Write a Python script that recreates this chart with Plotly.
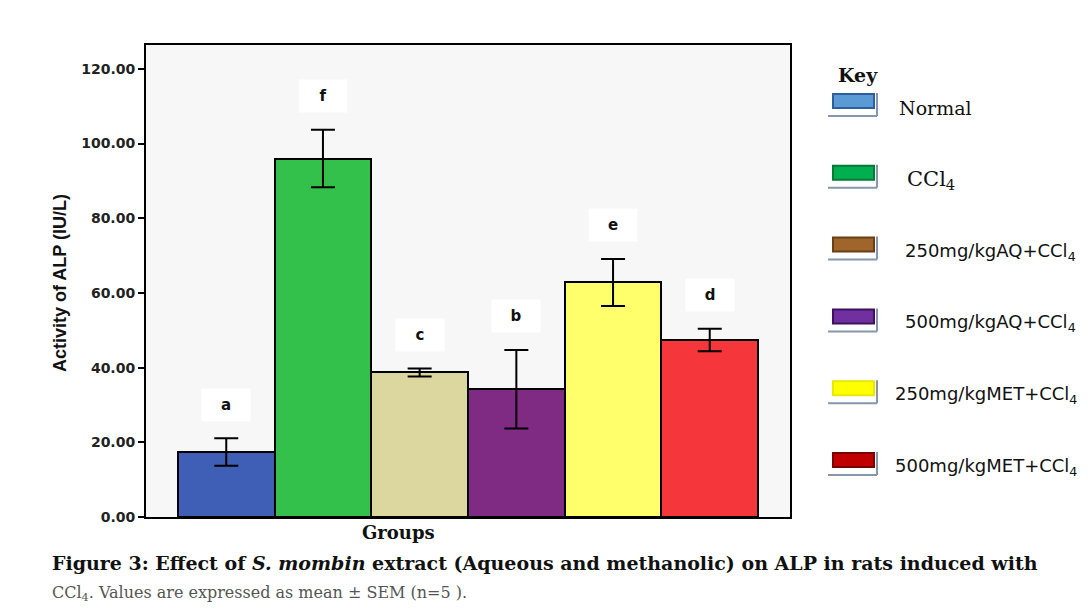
import plotly.graph_objects as go

# ---- data ----
groups = ["Normal", "CCl4", "250mg/kgAQ+CCl4", "500mg/kgAQ+CCl4", "250mg/kgMET+CCl4", "500mg/kgMET+CCl4"]
alp_mean = [17.4, 96.0, 38.7, 34.2, 62.8, 47.4]
alp_sem = [3.7, 7.7, 1.1, 10.5, 6.3, 3.0]
sig_letters = ["a", "f", "c", "b", "e", "d"]
bar_colors = ["#3F5EB6", "#33C04B", "#DCD79E", "#7F2A83", "#FFFF6C", "#F5363B"]
legend_labels = ["Normal", "CCl<sub>4</sub>", "250mg/kgAQ+CCl<sub>4</sub>", "500mg/kgAQ+CCl<sub>4</sub>",
                 "250mg/kgMET+CCl<sub>4</sub>", "500mg/kgMET+CCl<sub>4</sub>"]
legend_fill = ["#5B9BD5", "#00B050", "#A0652B", "#7030A0", "#FFFF00", "#C00000"]
legend_edge = ["#2E5E9E", "#007A38", "#6B3F15", "#3C1260", "#E8E800", "#7A0000"]
y_ticks = [0, 20, 40, 60, 80, 100, 120]

# ---- layout geometry (target page pixels; page body has an 8px margin) ----
OFF = 8
W, H = 1092 - OFF, 609 - OFF
L, R, T, B = 146 - OFF, 790 - OFF, 45 - OFF, 517 - OFF
Y_MAX = 126.4


def px(x):
    return (x - OFF - L) / (R - L)


def py(y):
    return (B - (y - OFF)) / (B - T)


fig = go.Figure()
fig.add_trace(go.Bar(
    x=list(range(len(groups))), y=alp_mean, width=1,
    marker=dict(color=bar_colors, line=dict(color="black", width=2)),
    error_y=dict(type="data", array=alp_sem, color="black", thickness=2, width=12),
    showlegend=False, hoverinfo="y",
))

annotations = []
# significance letters above the error bars
for i, (m, s, lt) in enumerate(zip(alp_mean, alp_sem, sig_letters)):
    annotations.append(dict(
        x=i, y=m + s + 9, xref="x", yref="y", text="<b>%s</b>" % lt, showarrow=False,
        font=dict(family="DejaVu Sans", size=15, color="#111"),
        bgcolor="white", borderpad=4, width=40, height=24, xanchor="center", yanchor="middle",
    ))

# axis titles
annotations.append(dict(x=px(60), y=py(283), xref="paper", yref="paper", text="<b>Activity of ALP (IU/L)</b>",
                        textangle=-90, showarrow=False, xanchor="center", yanchor="middle",
                        font=dict(family="Liberation Sans", size=18, color="#111")))
annotations.append(dict(x=px(398), y=py(532), xref="paper", yref="paper", text="<b>Groups</b>",
                        showarrow=False, xanchor="center", yanchor="middle",
                        font=dict(family="DejaVu Serif", size=18, color="#111")))

# key
annotations.append(dict(x=px(836), y=py(75), xref="paper", yref="paper", text="<b>Key</b>", xanchor="left",
                        yanchor="middle", showarrow=False, font=dict(family="DejaVu Serif", size=19, color="#111")))
shapes = []
text_x = [897, 905, 903, 903, 893, 893]
for i, lab in enumerate(legend_labels):
    cy = 101 + 71.8 * i
    shapes.append(dict(type="rect", xref="paper", yref="paper", x0=px(833), x1=px(874), y0=py(cy - 7), y1=py(cy + 7),
                       fillcolor=legend_fill[i], line=dict(color=legend_edge[i], width=2)))
    shapes.append(dict(type="line", xref="paper", yref="paper", x0=px(877), x1=px(877), y0=py(cy - 8), y1=py(cy + 15),
                       line=dict(color="#8696AE", width=2)))
    shapes.append(dict(type="line", xref="paper", yref="paper", x0=px(828), x1=px(877), y0=py(cy + 15), y1=py(cy + 15),
                       line=dict(color="#8696AE", width=2)))
    if i == 0:
        f = dict(family="DejaVu Serif", size=19, color="#111")
    elif i == 1:
        f = dict(family="DejaVu Serif", size=21, color="#111")
    else:
        f = dict(family="DejaVu Sans", size=18, color="#111")
    annotations.append(dict(x=px(text_x[i]), y=py(cy + 7), xref="paper", yref="paper", text=lab, xanchor="left",
                            yanchor="middle", showarrow=False, font=f))

# caption
annotations.append(dict(x=px(50), y=py(563), xref="paper", yref="paper", xanchor="left", yanchor="middle",
                        text="<b>Figure 3: Effect of <i>S. mombin</i> extract (Aqueous and methanolic) on ALP in rats induced with</b>",
                        showarrow=False, font=dict(family="DejaVu Serif", size=19, color="#111")))
annotations.append(dict(x=px(50), y=py(593), xref="paper", yref="paper", xanchor="left", yanchor="middle",
                        text="CCl<sub>4</sub>. Values are expressed as mean ± SEM (n=5 ).",
                        showarrow=False, font=dict(family="DejaVu Serif", size=16, color="#555")))

fig.update_layout(
    width=W, height=H,
    margin=dict(l=L, r=W - R, t=T, b=H - B, pad=0),
    paper_bgcolor="white", plot_bgcolor="#F7F7F7",
    showlegend=False,
    annotations=annotations, shapes=shapes,
    bargap=0,
)
fig.update_xaxes(range=[-0.83, 5.83], showticklabels=False, ticks="", showgrid=False, zeroline=False,
                 showline=True, linecolor="black", linewidth=2, mirror=True)
fig.update_yaxes(range=[0, Y_MAX], tickvals=y_ticks, tickformat=".2f", ticks="outside", ticklen=6, tickwidth=2,
                 tickcolor="black", showgrid=False, zeroline=False, showline=True, linecolor="black", linewidth=2,
                 mirror=True, tickfont=dict(family="DejaVu Sans", size=14, color="#222", weight="bold"))

fig.write_html("out.html")
